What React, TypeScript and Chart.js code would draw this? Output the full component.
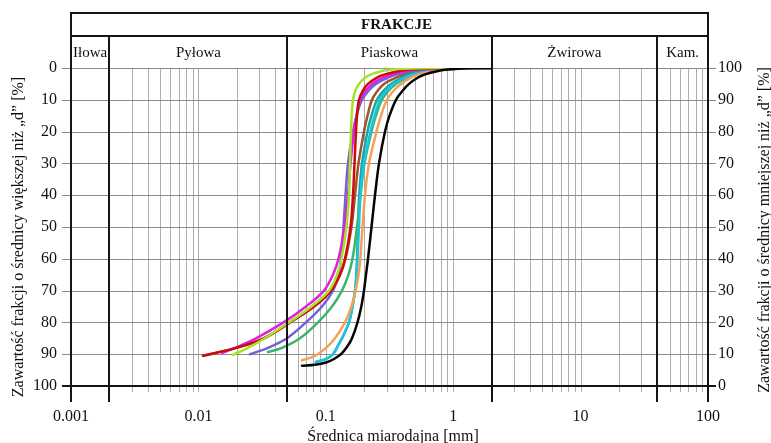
import React, { useEffect, useRef } from "react";
import { Chart, registerables } from "chart.js";

Chart.register(...registerables);

const FONT = '"Liberation Serif", "Times New Roman", serif';

// ---- text ----
const headerTitle = "FRAKCJE";
const fractionNames = ["Iłowa", "Pyłowa", "Piaskowa", "Żwirowa", "Kam."];
const xTitle = "Średnica miarodajna [mm]";
const yLeftTitle = "Zawartość frakcji o średnicy większej niż „d” [%]";
const yRightTitle = "Zawartość frakcji o średnicy mniejszej niż „d” [%]";

// ---- axes ----
const fractionBounds = [0.001, 0.002, 0.05, 2, 40, 100];
const xLabelValues = [0.001, 0.01, 0.1, 1, 10, 100];
const percentTicks = [0, 10, 20, 30, 40, 50, 60, 70, 80, 90, 100];
const gridValues = [
  0.003, 0.004, 0.005, 0.006, 0.007, 0.008, 0.009,
  0.01, 0.02, 0.03, 0.04, 0.06, 0.07, 0.08, 0.09,
  0.1, 0.2, 0.3, 0.4, 0.5, 0.6, 0.7, 0.8, 0.9,
  1, 3, 4, 5, 6, 7, 8, 9,
  10, 20, 30, 50, 60, 70, 80, 90,
];

// ---- series: [diameter d in mm, % of fraction larger than d] ----
const blackPts = [
  [0.06504, 93.6], [0.08227, 93.3], [0.1004, 92.6], [0.116, 91.5], [0.1316, 90], [0.148, 87.5],
  [0.1606, 85], [0.1774, 80], [0.19, 75], [0.1994, 70], [0.2068, 65], [0.2144, 60],
  [0.2284, 50], [0.2433, 40], [0.2616, 30], [0.2916, 20], [0.3162, 15], [0.3556, 10],
  [0.4036, 7], [0.4499, 5], [0.5293, 3], [0.6007, 2], [0.7465, 1], [0.8943, 0.5],
  [1.0908, 0.2], [1.51, 0], [2, 0],
];
const limePts = [
  [0.01869, 90.2], [0.0245, 88], [0.03332, 85], [0.05141, 80], [0.07721, 75], [0.106, 70],
  [0.1224, 65], [0.1328, 60], [0.1454, 50], [0.1521, 40], [0.1549, 30], [0.1577, 20],
  [0.1597, 15], [0.1635, 10], [0.1711, 7], [0.1822, 5], [0.2049, 3], [0.2264, 2],
  [0.2713, 1], [0.3249, 0.5], [0.4184, 0.2], [0.7196, 0], [2, 0],
];
const redPts = [
  [0.01087, 90.5], [0.01973, 88], [0.03273, 85], [0.05236, 80], [0.08078, 75], [0.1099, 70],
  [0.1293, 65], [0.1415, 60], [0.1563, 50], [0.1635, 40], [0.168, 30], [0.1726, 20],
  [0.1758, 15], [0.1822, 10], [0.1959, 7], [0.2144, 5], [0.2523, 3], [0.2916, 2],
  [0.3687, 1], [0.458, 0.5], [0.6007, 0.2], [0.944, 0], [2, 0],
];
const magentaPts = [
  [0.01532, 89.6], [0.01938, 88], [0.02832, 85], [0.04656, 80], [0.0699, 75], [0.0968, 70],
  [0.1139, 65], [0.1258, 60], [0.1402, 50], [0.1494, 40], [0.1563, 30], [0.1665, 20],
  [0.1742, 15], [0.1855, 10], [0.2068, 7], [0.2305, 5], [0.2812, 3], [0.3309, 2],
  [0.4184, 1], [0.5199, 0.5], [0.6817, 0.2], [1.0332, 0], [2, 0],
];
const purplePts = [
  [0.02541, 90], [0.03518, 88], [0.04958, 85], [0.0699, 80], [0.09336, 75], [0.1139, 70],
  [0.1258, 65], [0.1316, 60], [0.1377, 50], [0.1428, 40], [0.1494, 30], [0.1635, 20],
  [0.1742, 15], [0.1924, 10], [0.2183, 7], [0.2477, 5], [0.3078, 3], [0.3622, 2],
  [0.4665, 1], [0.5794, 0.5], [0.7465, 0.2], [1.0908, 0], [2, 0],
];
const greenPts = [
  [0.03518, 89.3], [0.0453, 88], [0.06273, 85], [0.08686, 80], [0.1119, 75], [0.134, 70],
  [0.1507, 65], [0.162, 60], [0.1758, 50], [0.1872, 40], [0.2013, 30], [0.2284, 20],
  [0.2477, 15], [0.2761, 10], [0.3134, 7], [0.3556, 5], [0.4339, 3], [0.5014, 2],
  [0.6342, 1], [0.7739, 0.5], [0.9439, 0.2], [1.307, 0], [2, 0],
];
const orangePts = [
  [0.06504, 91.9], [0.08227, 90.5], [0.1004, 88], [0.1181, 85], [0.1415, 80], [0.1591, 75],
  [0.1711, 70], [0.1806, 65], [0.1865, 60], [0.1941, 50], [0.2031, 40], [0.2183, 30],
  [0.25, 20], [0.2713, 15], [0.3022, 10], [0.343, 7], [0.3894, 5], [0.4665, 3],
  [0.539, 2], [0.6817, 1], [0.8318, 0.5], [1.0146, 0.2], [1.405, 0], [2, 0],
];
const cyanPts = [
  [0.08376, 92.4], [0.1004, 91.5], [0.1139, 90], [0.1258, 87], [0.134, 85], [0.1521, 80],
  [0.162, 75], [0.1696, 70], [0.1742, 65], [0.1774, 60], [0.1822, 50], [0.1872, 40],
  [0.1994, 30], [0.2243, 20], [0.2412, 15], [0.2663, 10], [0.3022, 7], [0.343, 5],
  [0.4184, 3], [0.4836, 2], [0.6117, 1], [0.7465, 0.5], [0.9106, 0.2], [1.2605, 0], [2, 0],
];
const tealPts = [
  [0.08376, 92.4], [0.1004, 91.5], [0.1139, 90], [0.1258, 87], [0.134, 85], [0.1521, 80],
  [0.162, 75], [0.1696, 70], [0.1735, 65], [0.1758, 60], [0.1789, 50], [0.1829, 40],
  [0.1924, 30], [0.2125, 20], [0.2284, 15], [0.2523, 10], [0.2863, 7], [0.3249, 5],
  [0.3964, 3], [0.458, 2], [0.5794, 1], [0.7069, 0.5], [0.8622, 0.2], [1.1938, 0], [2, 0],
];
const brownPts = [
  [0.01087, 90.5], [0.01973, 88], [0.03273, 85], [0.05236, 80], [0.08078, 75], [0.1099, 70],
  [0.1293, 65], [0.1428, 60], [0.1591, 50], [0.1696, 40], [0.1806, 30], [0.1994, 20],
  [0.2125, 15], [0.2305, 10], [0.2569, 7], [0.2863, 5], [0.3556, 3], [0.4184, 2],
  [0.539, 1], [0.6575, 0.5], [0.8318, 0.2], [1.1726, 0], [2, 0],
];

// first = drawn on top
const seriesList = [
  { pts: blackPts, color: "#050505" },
  { pts: limePts, color: "#a6e22c" },
  { pts: redPts, color: "#cc0b0b" },
  { pts: magentaPts, color: "#dd22dd" },
  { pts: purplePts, color: "#7460d6" },
  { pts: orangePts, color: "#f4a156" },
  { pts: cyanPts, color: "#1cc4e2" },
  { pts: greenPts, color: "#3cb56c" },
  { pts: tealPts, color: "#1aa89c" },
  { pts: brownPts, color: "#a0522d" },
];

const framePlugin = {
  id: "frame",
  beforeDatasetsDraw(chart: any) {
    const { ctx, chartArea: a, scales } = chart;
    const xs = scales.x;
    const ys = scales.y;
    const X = (v: number) => Math.round(xs.getPixelForValue(v)) + 0.5;
    const Y = (v: number) => Math.round(ys.getPixelForValue(v)) + 0.5;
    ctx.save();
    ctx.lineWidth = 1;
    ctx.strokeStyle = "#adadad";
    ctx.beginPath();
    for (const v of gridValues) {
      const x = X(v);
      ctx.moveTo(x, a.top);
      ctx.lineTo(x, a.bottom + 6);
    }
    ctx.stroke();
    ctx.strokeStyle = "#8c8c8c";
    ctx.beginPath();
    for (const p of percentTicks) {
      if (p === 100) continue;
      const y = Y(p);
      ctx.moveTo(a.left - 9, y);
      ctx.lineTo(a.right + 8, y);
    }
    ctx.stroke();
    ctx.restore();
  },
  afterDatasetsDraw(chart: any) {
    const { ctx, chartArea: a, scales } = chart;
    const xs = scales.x;
    const ys = scales.y;
    const X = (v: number) => Math.round(xs.getPixelForValue(v));
    const headTop = 13;
    const headMid = 36;
    ctx.save();
    ctx.strokeStyle = "#151515";
    ctx.lineWidth = 2;
    const yb = Math.round(ys.getPixelForValue(100));
    ctx.beginPath();
    ctx.moveTo(a.left - 9, yb);
    ctx.lineTo(a.right + 8, yb);
    ctx.stroke();
    ctx.beginPath();
    ctx.moveTo(a.left - 1, headTop);
    ctx.lineTo(a.right + 1, headTop);
    ctx.moveTo(a.left, headMid);
    ctx.lineTo(a.right, headMid);
    ctx.stroke();
    ctx.beginPath();
    fractionBounds.forEach((v, i) => {
      const x = X(v);
      const outer = i === 0 || i === fractionBounds.length - 1;
      ctx.moveTo(x, outer ? headTop : headMid);
      ctx.lineTo(x, a.bottom + 16);
    });
    ctx.stroke();

    ctx.fillStyle = "#111";
    ctx.textAlign = "center";
    ctx.textBaseline = "alphabetic";
    ctx.font = `bold 15px ${FONT}`;
    ctx.fillText(headerTitle, (a.left + a.right) / 2 + 7, 29);
    ctx.font = `15px ${FONT}`;
    fractionNames.forEach((name, i) => {
      const x0 = xs.getPixelForValue(fractionBounds[i]);
      const x1 = xs.getPixelForValue(fractionBounds[i + 1]);
      ctx.fillText(name, (x0 + x1) / 2, 57);
    });

    ctx.font = `16px ${FONT}`;
    ctx.fillText(xTitle, 393, 441);
    ctx.textBaseline = "middle";
    ctx.save();
    ctx.translate(19, 237);
    ctx.rotate(-Math.PI / 2);
    ctx.fillText(yLeftTitle, 0, 0);
    ctx.restore();
    ctx.save();
    ctx.translate(765, 230);
    ctx.rotate(-Math.PI / 2);
    ctx.fillText(yRightTitle, 0, 0);
    ctx.restore();
    ctx.restore();
  },
};

const fmt = (v: number) => String(v);

export default function App() {
  const ref = useRef<HTMLCanvasElement | null>(null);
  useEffect(() => {
    if (!ref.current) return;
    const tickFont = { family: FONT, size: 16 };
    const chart = new Chart(ref.current, {
      type: "line",
      data: {
        datasets: seriesList.map((s) => ({
          data: s.pts.map(([d, p]) => ({ x: d, y: p })),
          borderColor: s.color,
          borderWidth: 2.5,
          pointRadius: 0,
          fill: false,
          tension: 0.35,
          borderCapStyle: "round" as const,
          borderJoinStyle: "round" as const,
          yAxisID: "y",
        })),
      },
      options: {
        animation: false,
        responsive: false,
        devicePixelRatio: 1,
        layout: { padding: { top: 68, left: 0, right: 0, bottom: 0 } },
        plugins: { legend: { display: false }, tooltip: { enabled: false } },
        scales: {
          x: {
            type: "logarithmic",
            position: "bottom",
            min: 0.001,
            max: 100,
            afterBuildTicks: (s: any) => {
              s.ticks = xLabelValues.map((v) => ({ value: v }));
            },
            afterFit: (s: any) => {
              s.height = 57;
            },
            grid: { display: false, drawTicks: false },
            border: { display: false },
            ticks: {
              autoSkip: false,
              maxRotation: 0,
              minRotation: 0,
              padding: 21,
              color: "#111",
              font: tickFont,
              callback: (v: any) => fmt(Number(v)),
            },
          },
          y: {
            type: "linear",
            position: "left",
            reverse: true,
            min: 0,
            max: 100,
            afterBuildTicks: (s: any) => {
              s.ticks = percentTicks.map((v) => ({ value: v }));
            },
            afterFit: (s: any) => {
              s.width = 71;
            },
            grid: { display: false, drawTicks: false },
            border: { display: false },
            ticks: { padding: 14, color: "#111", font: tickFont },
          },
          y2: {
            type: "linear",
            position: "right",
            min: 0,
            max: 100,
            afterBuildTicks: (s: any) => {
              s.ticks = percentTicks.map((v) => ({ value: v }));
            },
            afterFit: (s: any) => {
              s.width = 63;
            },
            grid: { display: false, drawTicks: false },
            border: { display: false },
            ticks: { padding: 10, color: "#111", font: tickFont },
          },
        },
      } as any,
      plugins: [framePlugin],
    });
    return () => chart.destroy();
  }, []);
  return (
    <canvas
      ref={ref}
      width={771}
      height={443}
      style={{ position: "absolute", left: 0, top: 0, display: "block", background: "#fff" }}
    />
  );
}
